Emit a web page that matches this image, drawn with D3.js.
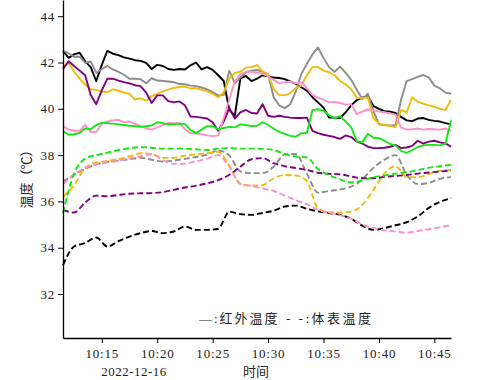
<!DOCTYPE html>
<html>
<head>
<meta charset="utf-8">
<script src="https://cdn.jsdelivr.net/npm/d3@7"></script>
<style>
  body { margin: 0; background: #fff; }
  svg text { font-family: "Liberation Serif", "Noto Sans CJK SC", serif; fill: #222; }
</style>
</head>
<body>
<div id="chart"></div>
<script>
// sampling: infrared every 30 s, body surface every 1 min, from 10:11:30
const startTime = new Date(2022, 11, 16, 10, 11, 30);
const endTime = new Date(2022, 11, 16, 10, 46, 30);
const solidStepSec = 30;
const dashedStepSec = 60;

const colors = ["#000000", "#8c8c8c", "#f0bc0a", "#800080", "#ff8fc8", "#12e812"];
const seriesNames = ["black", "gray", "gold", "purple", "pink", "green"];

// 红外温度 (solid)
const irBlack = [42.5,42.2,42.35,42.42,42.05,41.8,41.2,41.9,42.5,42.38,42.32,42.22,42.17,42.1,42.07,41.98,41.72,41.9,41.85,41.72,41.68,41.72,41.7,41.88,42.0,41.7,41.8,41.68,41.45,41.2,39.95,39.7,41.3,41.42,41.2,41.3,41.45,41.4,41.35,41.33,41.28,41.18,41.08,40.93,40.78,40.5,40.28,40.05,39.62,39.62,39.6,39.85,40.15,40.38,40.48,40.55,40.12,40.0,39.9,39.88,39.82,39.65,39.5,39.47,39.58,39.6,39.52,39.48,39.45,39.38,39.33];
const irGray = [42.5,42.4,42.25,42.25,41.98,42.05,41.55,41.72,41.85,41.7,41.6,41.47,41.3,41.3,41.28,41.1,41.32,41.22,41.2,41.18,41.15,41.07,41.06,41.0,40.98,40.92,40.84,40.72,40.58,40.6,41.65,41.1,41.35,41.58,41.65,41.68,41.6,41.5,40.5,40.15,40.03,40.2,40.75,41.5,41.95,42.35,42.65,42.2,41.8,41.6,41.82,41.55,41.25,40.82,40.42,40.65,39.9,39.33,39.3,39.27,39.3,40.4,41.2,41.28,41.38,41.46,41.35,41.0,40.88,40.7,40.65];
const irGold = [41.86,42.0,41.6,41.3,41.05,40.85,40.81,40.75,40.72,40.84,40.78,40.7,40.65,40.4,40.45,40.35,40.55,40.65,40.75,40.83,40.9,40.95,40.96,40.88,40.9,40.83,40.75,40.65,40.5,40.7,41.3,41.55,41.6,41.78,41.8,41.9,41.6,41.5,40.85,40.6,40.58,40.68,40.9,41.0,41.45,41.8,41.8,41.65,41.58,41.45,41.2,41.05,40.85,40.48,40.45,40.5,39.6,39.36,39.3,39.27,39.2,39.95,39.85,40.5,40.3,40.22,40.15,40.08,40.0,39.95,40.38];
const irPurple = [41.71,42.05,41.85,41.65,41.45,40.6,40.2,40.8,41.3,41.3,41.22,41.15,41.1,41.02,40.98,40.7,40.25,40.58,40.58,40.33,40.28,40.32,40.15,39.67,39.65,39.62,39.58,39.42,39.05,39.45,40.04,39.58,39.85,39.95,39.82,39.8,40.2,39.7,39.65,39.7,39.65,39.62,39.6,39.6,39.62,39.05,38.95,38.88,38.83,38.78,38.7,38.85,38.78,38.58,38.5,38.37,38.3,38.3,38.32,38.36,38.44,38.3,38.33,38.4,38.62,38.5,38.58,38.62,38.55,38.5,38.37];
const irPink = [39.25,39.1,39.05,39.05,39.3,39.0,39.0,39.35,39.45,39.5,39.52,39.42,39.45,39.36,39.25,39.15,39.1,39.2,39.3,39.39,39.38,39.38,39.12,38.95,38.93,38.9,38.85,38.82,38.85,39.6,40.4,41.2,41.5,41.6,41.6,41.57,41.52,41.4,41.25,41.1,41.15,41.18,41.1,41.15,40.9,40.6,40.48,40.4,40.28,40.3,40.25,40.18,40.2,39.78,39.88,39.97,39.93,39.88,39.85,39.8,39.75,39.2,39.1,39.12,39.15,39.1,39.13,39.12,39.1,39.15,39.05];
const irGreen = [39.03,38.88,38.9,38.96,39.15,39.12,39.3,39.39,39.38,39.36,39.33,39.3,39.27,39.25,39.22,39.25,39.28,39.42,39.38,39.32,39.33,39.36,39.35,39.08,38.95,39.1,39.25,39.25,39.12,39.17,39.22,39.2,39.33,39.3,39.25,39.27,39.42,39.3,39.15,39.0,38.92,38.83,38.8,38.95,38.95,39.95,39.98,39.92,39.72,39.6,39.68,39.45,39.2,38.6,38.55,38.92,38.75,38.73,38.62,38.48,38.42,38.18,38.1,38.22,38.35,38.42,38.44,38.44,38.42,38.5,39.5];

// 体表温度 (dashed)
const skinBlack = [33.25,34.05,34.2,34.44,34.05,34.28,34.48,34.63,34.72,34.63,34.7,34.92,34.77,34.77,34.82,35.55,35.45,35.42,35.5,35.6,35.78,35.82,35.68,35.57,35.5,35.42,35.25,34.95,34.77,34.85,34.97,35.1,35.35,35.72,35.98,36.14];
const skinGray = [36.86,37.15,37.4,37.6,37.7,37.77,37.82,37.88,37.8,37.72,37.76,37.84,37.92,38.02,38.2,37.98,37.3,37.22,37.22,37.5,38.02,38.05,37.2,36.38,36.45,36.52,36.64,36.95,37.45,37.8,38.0,37.15,36.75,36.8,36.98,37.05];
const skinGold = [36.2,36.7,37.45,37.68,37.75,37.83,37.95,38.08,38.05,37.88,37.88,37.97,38.03,38.08,38.14,37.55,36.75,36.68,36.7,37.0,37.14,37.12,36.86,35.7,35.52,35.52,35.56,35.85,36.5,37.2,37.53,37.05,37.05,37.18,37.32,37.36];
const skinPurple = [35.63,35.52,35.95,36.25,36.22,36.28,36.33,36.35,36.36,36.4,36.5,36.6,36.68,36.78,36.92,37.15,37.5,37.82,37.87,37.65,37.52,37.44,37.36,37.24,37.19,37.17,37.08,37.0,37.0,37.06,37.1,37.14,37.2,37.25,37.29,37.33];
const skinPink = [36.75,37.15,37.45,37.6,37.68,37.76,37.86,37.95,38.04,37.78,37.62,37.63,37.73,37.85,38.0,37.5,36.76,36.67,36.56,36.45,36.25,36.05,35.88,35.63,35.52,35.4,35.25,35.0,34.85,34.75,34.7,34.65,34.72,34.8,34.88,34.98];
const skinGreen = [35.5,37.2,37.85,38.0,38.1,38.22,38.3,38.34,38.32,38.28,38.28,38.28,38.25,38.22,38.28,38.3,38.28,38.28,38.27,38.22,38.05,37.94,37.9,37.4,37.14,36.95,36.82,36.9,37.05,37.12,37.2,37.26,37.35,37.45,37.52,37.58];

const yTicks = [32, 34, 36, 38, 40, 42, 44];
const legendLabels = ["—:红外温度", "- -:体表温度"];
const dateLabel = "2022-12-16";
const xLabel = "时间";
const yLabel = "温度（℃）";

const irSeries = [irBlack, irGray, irGold, irPurple, irPink, irGreen];
const skinSeries = [skinBlack, skinGray, skinGold, skinPurple, skinPink, skinGreen];

const width = 500;
const height = 380;
const margin = { top: 0, right: 49, bottom: 42, left: 63 };

const svg = d3.select('#chart')
  .append('svg')
  .attr('width', width)
  .attr('height', height)

const xScale = d3.scaleTime()
  .domain([startTime, endTime])
  .range([margin.left, width - margin.right])

const yScale = d3.scaleLinear()
  .domain([30.1, 44.7])
  .range([height - margin.bottom, margin.top])

const timeAt = (i, step) => new Date(startTime.getTime() + i * step * 1000);

const line = (step) => d3.line()
  .x((d, i) => xScale(timeAt(i, step)))
  .y((d) => yScale(d))

const plot = svg.append('g')

colors.forEach((c, k) => {
  plot.append('path')
    .datum(irSeries[k])
    .attr('class', 'ir ' + seriesNames[k])
    .attr('fill', 'none')
    .attr('stroke', c)
    .attr('stroke-width', 1.9)
    .attr('stroke-linejoin', 'round')
    .attr('d', line(solidStepSec))
})

colors.forEach((c, k) => {
  plot.append('path')
    .datum(skinSeries[k])
    .attr('class', 'skin ' + seriesNames[k])
    .attr('fill', 'none')
    .attr('stroke', c)
    .attr('stroke-width', 1.9)
    .attr('stroke-dasharray', '6,3')
    .attr('d', line(dashedStepSec).curve(d3.curveMonotoneX))
})

const xTickValues = d3.range(15, 50, 5).map(m => new Date(2022, 11, 16, 10, m, 0));

const xAxis = d3.axisBottom(xScale)
  .tickValues(xTickValues)
  .tickFormat(d3.timeFormat('%H:%M'))
  .tickSize(5)
  .tickSizeOuter(0)

const yAxis = d3.axisLeft(yScale)
  .tickValues(yTicks)
  .tickFormat(d3.format('d'))
  .tickSize(5)
  .tickSizeOuter(0)

const gx = svg.append('g')
  .attr('id', 'x-axis')
  .attr('transform', `translate(0, ${height - margin.bottom})`)
  .call(xAxis)

const gy = svg.append('g')
  .attr('id', 'y-axis')
  .attr('transform', `translate(${margin.left}, 0)`)
  .call(yAxis)

svg.selectAll('.domain').attr('stroke', '#000').attr('stroke-width', 1.3)
svg.selectAll('.tick line').attr('stroke', '#000').attr('stroke-width', 1)
svg.selectAll('.tick text')
  .style('font-size', '13px')
  .style('letter-spacing', '0.8px')
gx.selectAll('.tick text').attr('dy', '0.95em')

// legend text
svg.append('text')
  .attr('x', 199)
  .attr('y', 323)
  .style('font-size', '13px')
  .style('letter-spacing', '2px')
  .text(legendLabels[0])

svg.append('text')
  .attr('x', 286)
  .attr('y', 323)
  .style('font-size', '13px')
  .style('letter-spacing', '2.5px')
  .style('white-space', 'pre')
  .text(legendLabels[1])

svg.append('text')
  .attr('x', 134)
  .attr('y', 376)
  .attr('text-anchor', 'middle')
  .style('font-size', '13px')
  .style('letter-spacing', '0.5px')
  .text(dateLabel)

svg.append('text')
  .attr('x', 256)
  .attr('y', 376)
  .attr('text-anchor', 'middle')
  .style('font-size', '13px')
  .text(xLabel)

svg.append('text')
  .attr('transform', `translate(31, 176) rotate(-90)`)
  .attr('text-anchor', 'middle')
  .style('font-size', '13px')
  .text(yLabel)
</script>
</body>
</html>
